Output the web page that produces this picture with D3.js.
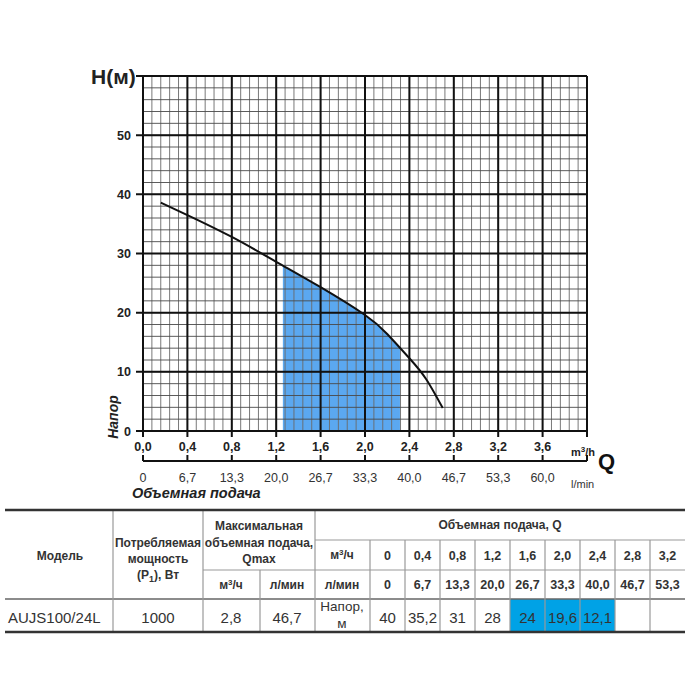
<!DOCTYPE html>
<html>
<head>
<meta charset="utf-8">
<script src="https://cdn.jsdelivr.net/npm/d3@7"></script>
<style>
  body { margin: 0; background: #fff; }
  text { font-family: "Liberation Sans", Arial, sans-serif; }
</style>
</head>
<body>
<svg id="chart" width="700" height="700"></svg>
<script>
// Кривая напора
const curveQ = [0.16, 0.4, 0.8, 1.2, 1.6, 2.0, 2.2, 2.4, 2.55, 2.7];
const curveH = [38.6, 36.5, 32.8, 28.6, 24.3, 19.6, 16.4, 12.3, 8.8, 3.9];

// Рабочая зона (заливка)
const workRange = [1.26, 2.315];

// Оси
const qTicks = [0, 0.4, 0.8, 1.2, 1.6, 2.0, 2.4, 2.8, 3.2, 3.6];
const qLabels = ["0,0", "0,4", "0,8", "1,2", "1,6", "2,0", "2,4", "2,8", "3,2", "3,6"];
const lminLabels = ["0", "6,7", "13,3", "20,0", "26,7", "33,3", "40,0", "46,7", "53,3", "60,0"];
const hTicks = [0, 10, 20, 30, 40, 50];

// Таблица
const tableQ = ["0", "0,4", "0,8", "1,2", "1,6", "2,0", "2,4", "2,8", "3,2"];
const tableLmin = ["0", "6,7", "13,3", "20,0", "26,7", "33,3", "40,0", "46,7", "53,3"];
const tableH = ["40", "35,2", "31", "28", "24", "19,6", "12,1", "", ""];
const highlight = [4, 5, 6];
const model = "AUJS100/24L";
const power = "1000";
const qmaxM3 = "2,8";
const qmaxL = "46,7";

const svg = d3.select("#chart");

// Шкалы графика
const x = d3.scaleLinear().domain([0, 4]).range([143, 587]);
const y = d3.scaleLinear().domain([0, 60]).range([431, 76]);

// Заливка рабочей зоны
const pts = curveQ.map((q, i) => [q, curveH[i]]);
svg.append("clipPath").attr("id", "work")
  .append("rect")
  .attr("x", x(workRange[0])).attr("y", y(60))
  .attr("width", x(workRange[1]) - x(workRange[0]))
  .attr("height", y(0) - y(60));

const area = d3.area()
  .x(d => x(d[0])).y0(y(0)).y1(d => y(d[1]))
  .curve(d3.curveNatural);

svg.append("path")
  .datum(pts)
  .attr("d", area)
  .attr("clip-path", "url(#work)")
  .style("fill", "#5ba8f0");

// Мелкая сетка
const grid = svg.append("g");
grid.selectAll(".vminor")
  .data(d3.range(0, 51).map(i => i * 0.08))
  .enter().append("line")
  .attr("x1", d => x(d)).attr("x2", d => x(d))
  .attr("y1", y(0)).attr("y2", y(60))
  .style("stroke", "#6a6a6a").style("stroke-width", 0.9);
grid.selectAll(".hminor")
  .data(d3.range(0, 31).map(i => i * 2))
  .enter().append("line")
  .attr("x1", x(0)).attr("x2", x(4))
  .attr("y1", d => y(d)).attr("y2", d => y(d))
  .style("stroke", "#4a4a4a").style("stroke-width", 0.9);

// Крупная сетка
grid.selectAll(".vmajor")
  .data(qTicks.concat([4]))
  .enter().append("line")
  .attr("x1", d => x(d)).attr("x2", d => x(d))
  .attr("y1", y(0) + 6).attr("y2", y(60))
  .style("stroke", "#111").style("stroke-width", 2);
grid.selectAll(".hmajor")
  .data(hTicks.concat([60]))
  .enter().append("line")
  .attr("x1", x(0) - 7).attr("x2", x(4))
  .attr("y1", d => y(d)).attr("y2", d => y(d))
  .style("stroke", "#111").style("stroke-width", 2);

// Кривая
const line = d3.line()
  .x(d => x(d[0])).y(d => y(d[1]))
  .curve(d3.curveNatural);
svg.append("path")
  .datum(pts)
  .attr("d", line)
  .style("fill", "none")
  .style("stroke", "#111")
  .style("stroke-width", 2);

// Подписи оси H
svg.selectAll(".hlab")
  .data(hTicks)
  .enter().append("text")
  .attr("x", 131).attr("y", d => y(d) + 4.5)
  .attr("text-anchor", "end")
  .style("font-size", "12.5px").style("font-weight", "bold").style("fill", "#222")
  .text(d => d);

svg.append("text")
  .attr("x", 91).attr("y", 84)
  .style("font-size", "21px").style("font-weight", "bold").style("fill", "#222")
  .text("H(м)");

svg.append("text")
  .attr("transform", "translate(118,417) rotate(-90)")
  .attr("text-anchor", "middle")
  .style("font-size", "14px").style("font-weight", "bold").style("font-style", "italic")
  .style("fill", "#222")
  .text("Напор");

// Подписи оси Q (м³/ч)
svg.selectAll(".qlab")
  .data(qTicks)
  .enter().append("text")
  .attr("x", d => x(d)).attr("y", 451)
  .attr("text-anchor", "middle")
  .style("font-size", "12.5px").style("font-weight", "bold").style("fill", "#222")
  .text((d, i) => qLabels[i]);

svg.append("text")
  .attr("x", 571).attr("y", 456)
  .style("font-size", "11px").style("font-weight", "bold").style("fill", "#222")
  .html('m<tspan dy="-4" style="font-size:8px">3</tspan><tspan dy="4">/h</tspan>');

svg.append("text")
  .attr("x", 598).attr("y", 469)
  .style("font-size", "22px").style("font-weight", "bold").style("fill", "#111")
  .text("Q");

// Вторая ось (л/мин)
const ax2 = svg.append("g");
ax2.append("line")
  .attr("x1", x(0)).attr("x2", x(4))
  .attr("y1", 461).attr("y2", 461)
  .style("stroke", "#111").style("stroke-width", 2);
ax2.selectAll(".t2")
  .data(qTicks.concat([4]))
  .enter().append("line")
  .attr("x1", d => x(d)).attr("x2", d => x(d))
  .attr("y1", 455).attr("y2", 461)
  .style("stroke", "#111").style("stroke-width", 2);
ax2.selectAll(".l2")
  .data(qTicks)
  .enter().append("text")
  .attr("x", d => x(d)).attr("y", 482)
  .attr("text-anchor", "middle")
  .style("font-size", "12.5px").style("fill", "#333")
  .text((d, i) => lminLabels[i]);

svg.append("text")
  .attr("x", 571).attr("y", 488)
  .style("font-size", "11px").style("fill", "#333")
  .text("l/min");

svg.append("text")
  .attr("x", 132).attr("y", 498)
  .style("font-size", "14.5px").style("font-weight", "bold").style("font-style", "italic")
  .style("fill", "#222")
  .text("Объемная подача");

// ---------- Таблица ----------
const tbl = svg.append("g");
const colQ = d3.scaleBand().domain(d3.range(tableQ.length)).range([370, 685]);
const rTop = 510, r1 = 540, r2 = 570, r3 = 599, rBot = 632;

// Синие ячейки
tbl.selectAll(".hl")
  .data(highlight)
  .enter().append("rect")
  .attr("x", d => colQ(d)).attr("y", r3)
  .attr("width", colQ.bandwidth()).attr("height", rBot - r3)
  .style("fill", "#00a2e6");

function hline(x1, x2, yy, c, w) {
  tbl.append("line").attr("x1", x1).attr("x2", x2).attr("y1", yy).attr("y2", yy)
    .style("stroke", c).style("stroke-width", w);
}
function vline(xx, y1, y2) {
  tbl.append("line").attr("x1", xx).attr("x2", xx).attr("y1", y1).attr("y2", y2)
    .style("stroke", "#999").style("stroke-width", 1.2);
}

hline(315, 685, r1, "#999", 1.2);
hline(203, 685, r2, "#999", 1.2);
hline(5, 685, r3, "#666", 1.5);
[113, 203, 315].forEach(v => vline(v, rTop, rBot));
vline(260, r2, rBot);
vline(370, r1, rBot);
d3.range(1, tableQ.length).forEach(i => vline(colQ(i), r1, rBot));
hline(5, 685, rTop, "#333", 2.5);
hline(5, 685, rBot, "#333", 2.5);

function txt(tx, ty, s, opts) {
  opts = opts || {};
  return tbl.append("text")
    .attr("x", tx).attr("y", ty)
    .attr("text-anchor", opts.anchor || "middle")
    .style("font-size", (opts.size || 12) + "px")
    .style("font-weight", opts.bold === false ? "normal" : "bold")
    .style("fill", "#333")
    .text(s);
}

txt(60, 560, "Модель");
txt(158, 547, "Потребляемая");
txt(158, 563, "мощность");
tbl.append("text").attr("x", 158).attr("y", 579).attr("text-anchor", "middle")
  .style("font-size", "12px").style("font-weight", "bold").style("fill", "#333")
  .html('(P<tspan dy="3" style="font-size:9px">1</tspan><tspan dy="-3">), Вт</tspan>');
txt(259, 530, "Максимальная");
txt(259, 547, "объемная подача,");
txt(259, 563, "Qmax");
tbl.append("text").attr("x", 231).attr("y", 589).attr("text-anchor", "middle")
  .style("font-size", "12px").style("font-weight", "bold").style("fill", "#333")
  .html('м<tspan dy="-4" style="font-size:8px">3</tspan><tspan dy="4">/ч</tspan>');
txt(287, 589, "л/мин");
txt(500, 529, "Объемная подача, Q");
tbl.append("text").attr("x", 342).attr("y", 559).attr("text-anchor", "middle")
  .style("font-size", "12px").style("font-weight", "bold").style("fill", "#333")
  .html('м<tspan dy="-4" style="font-size:8px">3</tspan><tspan dy="4">/ч</tspan>');
txt(342, 589, "л/мин");

tbl.selectAll(".tq")
  .data(tableQ).enter().append("text")
  .attr("x", (d, i) => colQ(i) + colQ.bandwidth() / 2).attr("y", 560)
  .attr("text-anchor", "middle")
  .style("font-size", "12.5px").style("font-weight", "bold").style("fill", "#333")
  .text(d => d);
tbl.selectAll(".tl")
  .data(tableLmin).enter().append("text")
  .attr("x", (d, i) => colQ(i) + colQ.bandwidth() / 2).attr("y", 589)
  .attr("text-anchor", "middle")
  .style("font-size", "12.5px").style("font-weight", "bold").style("fill", "#333")
  .text(d => d);

txt(8, 623, model, { anchor: "start", size: 15, bold: false });
txt(158, 623, power, { size: 15, bold: false });
txt(231, 623, qmaxM3, { size: 15, bold: false });
txt(287, 623, qmaxL, { size: 15, bold: false });
txt(342, 611, "Напор,", { size: 13.5, bold: false });
txt(342, 628, "м", { size: 13.5, bold: false });

tbl.selectAll(".th")
  .data(tableH).enter().append("text")
  .attr("x", (d, i) => colQ(i) + colQ.bandwidth() / 2).attr("y", 623)
  .attr("text-anchor", "middle")
  .style("font-size", "15px").style("fill", "#333")
  .text(d => d);
</script>
</body>
</html>
